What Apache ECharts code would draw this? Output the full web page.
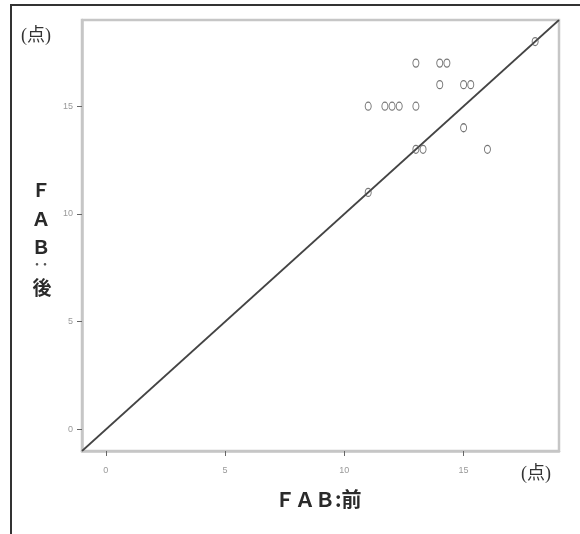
<!DOCTYPE html>
<html>
<head>
<meta charset="utf-8">
<script src="https://cdn.jsdelivr.net/npm/echarts@6/dist/echarts.min.js"></script>
<style>
  html, body { margin: 0; padding: 0; background: #fff; }
  #chart { width: 580px; height: 534px; }
</style>
</head>
<body>
<div id="chart"></div>
<script>
// 散布図のデータ (FAB 前 / 後)
var fabBefore = [13, 14, 14.3, 14, 15, 15.3, 11, 11.7, 12, 12.3, 13, 15, 13, 13.3, 16, 11, 18];
var fabAfter  = [17, 17, 17,   16, 16, 16,   15, 15,   15, 15,   15, 14, 13, 13,   13, 11, 18];
var axisRange = [-1, 19];
var tickValues = [0, 5, 10, 15];
var refLine = [-1, 19];

var points = fabBefore.map(function (v, i) { return [v, fabAfter[i]]; });

var dom = document.getElementById('chart');
var myChart = echarts.init(dom, null, { renderer: 'canvas' });

var tickLabel = {
    color: '#999',
    fontSize: 9,
    fontFamily: 'Liberation Sans',
    customValues: tickValues
};

var option = {
    backgroundColor: '#fff',
    animation: false,
    grid: {
        left: 82,
        right: 21,
        top: 20,
        bottom: 83,
        show: true,
        borderColor: '#c6c6c6',
        borderWidth: 2.5
    },
    xAxis: {
        type: 'value',
        min: axisRange[0],
        max: axisRange[1],
        splitLine: { show: false },
        axisLine: { onZero: false, lineStyle: { color: '#c6c6c6', width: 2.5 } },
        axisTick: { length: 5, customValues: tickValues, lineStyle: { color: '#666' } },
        axisLabel: Object.assign({ margin: 15 }, tickLabel)
    },
    yAxis: {
        type: 'value',
        min: axisRange[0],
        max: axisRange[1],
        splitLine: { show: false },
        axisLine: { onZero: false, lineStyle: { color: '#c6c6c6', width: 2.5 } },
        axisTick: { length: 5, customValues: tickValues, lineStyle: { color: '#666' } },
        axisLabel: Object.assign({ margin: 9 }, tickLabel)
    },
    series: [
        {
            type: 'line',
            data: [[refLine[0], refLine[0]], [refLine[1], refLine[1]]],
            symbol: 'none',
            lineStyle: { color: '#444', width: 1.7 },
            z: 2
        },
        {
            type: 'scatter',
            data: points,
            symbol: 'circle',
            symbolSize: [6, 8],
            itemStyle: {
                color: 'rgba(0,0,0,0)',
                borderColor: '#555',
                borderWidth: 1.1
            },
            z: 3
        }
    ],
    graphic: [
        // 外枠 (上と左)
        { type: 'line', shape: { x1: 10, y1: 5, x2: 580, y2: 5 }, style: { stroke: '#333', lineWidth: 2 } },
        { type: 'line', shape: { x1: 11, y1: 5, x2: 11, y2: 534 }, style: { stroke: '#333', lineWidth: 2 } },
        // 単位
        { type: 'text', left: 21, top: 27, style: { text: '(点)', fontSize: 18, fill: '#333', fontFamily: 'Liberation Serif, Noto Sans CJK JP' } },
        { type: 'text', left: 521, top: 465, style: { text: '(点)', fontSize: 18, fill: '#333', fontFamily: 'Liberation Serif, Noto Sans CJK JP' } },
        // x軸タイトル
        { type: 'text', left: 275, top: 489, style: { text: 'ＦＡＢ:前', fontSize: 20, fontWeight: 'bold', fill: '#2a2a2a', fontFamily: 'Noto Sans CJK JP' } },
        // y軸タイトル (縦書き)
        { type: 'text', x: 41, y: 190, style: { text: 'Ｆ', fontSize: 19, fontWeight: 'bold', fill: '#2a2a2a', align: 'center', verticalAlign: 'middle', fontFamily: 'Noto Sans CJK JP' } },
        { type: 'text', x: 41, y: 219, style: { text: 'Ａ', fontSize: 19, fontWeight: 'bold', fill: '#2a2a2a', align: 'center', verticalAlign: 'middle', fontFamily: 'Noto Sans CJK JP' } },
        { type: 'text', x: 41, y: 247, style: { text: 'Ｂ', fontSize: 19, fontWeight: 'bold', fill: '#2a2a2a', align: 'center', verticalAlign: 'middle', fontFamily: 'Noto Sans CJK JP' } },
        { type: 'text', x: 41, y: 264, style: { text: '‥', fontSize: 16, fontWeight: 'bold', fill: '#555', align: 'center', verticalAlign: 'middle', fontFamily: 'Noto Sans CJK JP' } },
        { type: 'text', x: 42, y: 288, style: { text: '後', fontSize: 19, fontWeight: 'bold', fill: '#2a2a2a', align: 'center', verticalAlign: 'middle', fontFamily: 'Noto Sans CJK JP' } }
    ]
};

myChart.setOption(option);
</script>
</body>
</html>
